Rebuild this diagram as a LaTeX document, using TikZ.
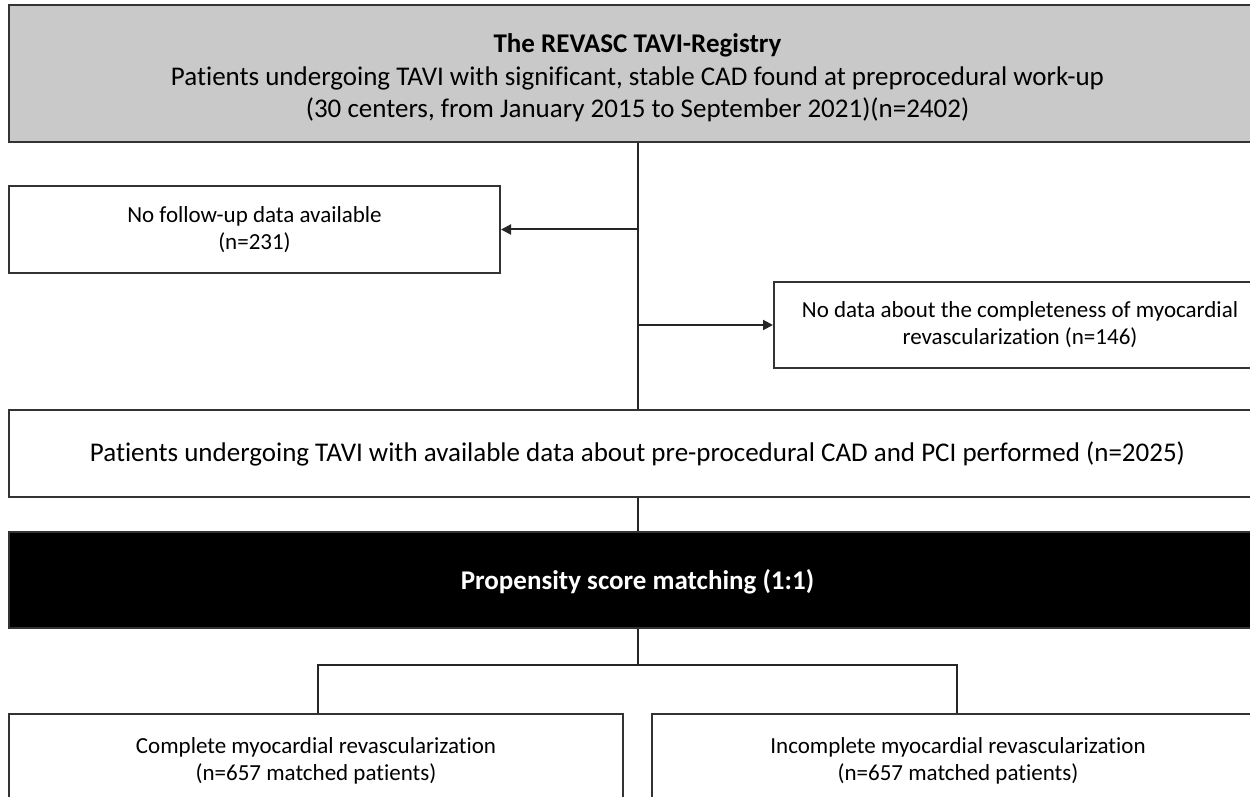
\documentclass[tikz,border=0pt]{standalone}
\usepackage{fontspec}
\setmainfont{Carlito}[Ligatures=NoCommon]
\usetikzlibrary{positioning, arrows.meta}

\tikzset{
  box/.style={draw=black!80, line width=1pt, fill=white, align=center, inner sep=0pt, font=\fontsize{11.5}{13.5}\selectfont},
  bigbox/.style={box, font=\fontsize{13.5}{16.3}\selectfont},
  greybox/.style={bigbox, fill=black!21},
  blackbox/.style={box, fill=black, text=white, font=\fontsize{13.5}{16.3}\selectfont\bfseries},
  boxtext/.style={align=center, inner sep=0pt, font=\fontsize{11.5}{13.5}\selectfont},
  link/.style={line width=1pt, draw=black!85},
  arrow/.style={link, -{Triangle[length=5pt, width=5pt]}}
}

\begin{document}
\begin{tikzpicture}[x=0.5pt, y=-0.5pt]

\useasboundingbox (0,0) rectangle (1250,797);
\clip (0,0) rectangle (1250,797);

% Registry
\node[greybox, minimum width=628.5pt, minimum height=68.5pt] (top) at (637.5,73.5)
  {\rule{0pt}{14pt}\textbf{The REVASC TAVI-Registry}\\Patients undergoing TAVI with significant, stable CAD found at preprocedural work-up\\(30 centers, from January 2015 to September 2021)(n=2402)};

% Exclusions
\node[box, minimum width=245.5pt, minimum height=43.5pt] (fu) at (254.5,229.5)
  {No follow-up data available\\(n=231)};
\node[box, minimum width=246pt, minimum height=43pt, anchor=west] (nd) at (773,325)
  {No data about the completeness of myocardial\\revascularization (n=146)};

% Available data
\node[bigbox, minimum width=628.5pt, minimum height=43.5pt] (avail) at (637.5,453.5)
  {Patients undergoing TAVI with available data about pre-procedural CAD and PCI performed (n=2025)};

% Matching
\node[blackbox, minimum width=628.5pt, minimum height=48pt] (psm) at (637.5,580)
  {\rule{0pt}{12pt}Propensity score matching (1:1)};

% Groups
\node[box, minimum width=307pt, minimum height=60pt] (complete) at (316,774) {};
\node[boxtext] (completetxt) at (316,761)
  {Complete myocardial revascularization\\(n=657 matched patients)};
\node[box, minimum width=306pt, minimum height=60pt] (incomplete) at (958,774) {};
\node[boxtext] (incompletetxt) at (958,761)
  {Incomplete myocardial revascularization\\(n=657 matched patients)};

% Arrows
\coordinate (j1) at (top.south |- fu.east);
\coordinate (j2) at (top.south |- nd.west);
\coordinate (split) at (637.5,665);
\draw[link] (top.south) -- (avail.north);
\draw[arrow] (j1) -- (fu.east);
\draw[arrow] (j2) -- (nd.west);
\draw[link] (avail.south) -- (psm.north);
\draw[link] (psm.south) -- (split);
\draw[link] (complete.north -| 318,0) |- (split) -| (incomplete.north -| 957,0);

\end{tikzpicture}
\end{document}
